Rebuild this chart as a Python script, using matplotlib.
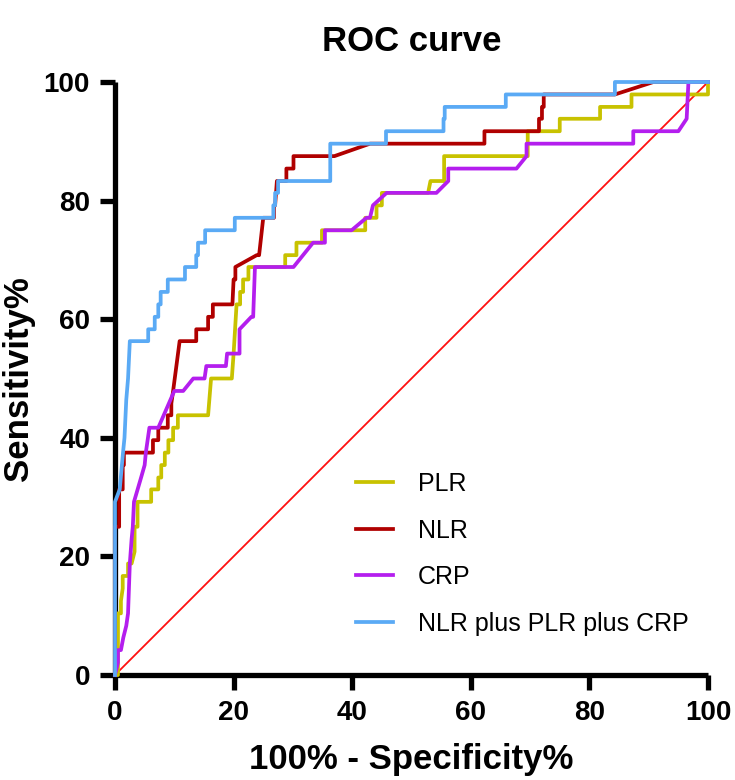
import matplotlib
matplotlib.use("Agg")
import matplotlib.pyplot as plt

plt.rcParams["font.family"] = ["Liberation Sans", "DejaVu Sans"]

# === ROC data (100% - specificity %, sensitivity %) ===
plr_x = [0, 0.5, 0.5, 1.0, 1.0, 1.3, 1.3, 2.2, 2.2, 2.8, 3.3, 3.3, 3.8, 3.8, 6.1, 6.1,
         7.3, 7.3, 7.8, 7.8, 8.4, 8.4, 9.0, 9.0, 9.8, 9.8, 10.6, 10.6, 15.7, 16.2, 19.7,
         20.0, 20.5, 21.1, 21.1, 21.6, 21.6, 22.5, 22.5, 28.7, 28.7, 30.6, 30.6, 34.9,
         34.9, 42.2, 42.2, 44.1, 44.1, 45.0, 45.0, 52.8, 53.2, 55.5, 55.5, 69.6, 69.6,
         75.0, 75.0, 81.8, 81.8, 87.1, 87.1, 100, 100]
plr_y = [0, 0, 10.4, 10.4, 12.5, 14.6, 16.7, 16.7, 18.8, 18.8, 20.8, 25.0, 25.0, 29.2,
         29.2, 31.3, 31.3, 33.3, 33.3, 35.4, 35.4, 37.5, 37.5, 39.6, 39.6, 41.7, 41.7,
         43.8, 43.8, 50.0, 50.0, 54.2, 62.5, 62.5, 64.6, 64.6, 66.7, 66.7, 68.8, 68.8,
         70.8, 70.8, 72.9, 72.9, 75.0, 75.0, 77.1, 77.1, 79.2, 79.2, 81.3, 81.3, 83.3,
         83.3, 87.5, 87.5, 91.7, 91.7, 93.8, 93.8, 95.8, 95.8, 97.9, 97.9, 100]

nlr_x = [0, 0, 0.7, 0.7, 1.3, 1.3, 1.5, 1.5, 6.4, 6.4, 7.3, 7.3, 8.9, 8.9, 9.5, 9.5,
         9.8, 10.9, 13.7, 13.7, 15.7, 15.7, 16.5, 16.5, 19.8, 20.0, 20.3, 20.3, 23.9,
         24.3, 25.0, 26.8, 26.8, 27.0, 27.3, 28.9, 28.9, 30.1, 30.1, 37.0, 43.0, 62.3,
         62.3, 71.5, 71.5, 72.0, 72.0, 72.3, 72.3, 84.3, 90.8, 100]
nlr_y = [0, 25.0, 25.0, 31.3, 31.3, 35.4, 35.4, 37.5, 37.5, 39.6, 39.6, 41.7, 41.7,
         43.8, 43.8, 45.8, 47.9, 56.3, 56.3, 58.3, 58.3, 60.4, 60.4, 62.5, 62.5, 66.7,
         66.7, 68.8, 70.8, 70.8, 77.1, 77.1, 79.2, 79.2, 83.3, 83.3, 85.4, 85.4, 87.5,
         87.5, 89.6, 89.6, 91.7, 91.7, 93.8, 93.8, 95.8, 95.8, 97.9, 97.9, 100, 100]

crp_x = [0, 0.5, 0.5, 1.0, 1.4, 1.9, 2.2, 2.5, 2.8, 3.0, 3.2, 4.4, 5.0, 5.2, 5.8, 7.3,
         10.0, 11.5, 13.2, 15.1, 15.4, 18.7, 18.9, 21.0, 21.0, 23.0, 23.3, 23.6, 30.1,
         33.4, 35.4, 35.4, 39.9, 42.4, 43.0, 43.5, 45.8, 54.2, 56.2, 56.2, 67.7, 69.4,
         69.4, 87.4, 87.4, 95.0, 96.4, 96.7, 100]
crp_y = [0, 2.1, 4.2, 4.2, 6.3, 8.3, 10.4, 18.8, 22.9, 25.0, 29.2, 33.3, 35.4, 37.5,
         41.7, 41.7, 47.9, 47.9, 50.0, 50.0, 52.1, 52.1, 54.2, 54.2, 58.3, 60.4, 60.4,
         68.8, 68.8, 72.9, 72.9, 75.0, 75.0, 77.1, 77.1, 79.2, 81.3, 81.3, 83.3, 85.4,
         85.4, 87.5, 89.6, 89.6, 91.7, 91.7, 93.8, 100, 100]

comb_x = [0, 0, 0.8, 1.35, 1.6, 1.9, 2.2, 2.5, 5.6, 5.6, 6.7, 6.7, 7.3, 7.3, 7.7, 7.7,
          8.9, 8.9, 11.8, 11.8, 13.7, 13.7, 14.0, 14.0, 15.2, 15.2, 20.2, 20.2, 26.7,
          26.7, 27.0, 27.0, 27.5, 27.5, 36.3, 36.3, 45.7, 45.7, 55.4, 55.4, 55.6, 55.6,
          65.9, 65.9, 84.3, 84.3, 100]
comb_y = [0, 29.2, 31.3, 37.5, 40.0, 46.4, 50.0, 56.3, 56.3, 58.3, 58.3, 60.4, 60.4,
          62.5, 62.5, 64.6, 64.6, 66.7, 66.7, 68.8, 68.8, 70.8, 70.8, 72.9, 72.9, 75.0,
          75.0, 77.1, 77.1, 79.2, 79.2, 81.3, 81.3, 83.3, 83.3, 89.6, 89.6, 91.7, 91.7,
          93.8, 93.8, 95.8, 95.8, 97.9, 97.9, 100, 100]

ref_x = [0, 100]
ref_y = [0, 100]

series = [
    ("PLR", plr_x, plr_y, "#C8C200"),
    ("NLR", nlr_x, nlr_y, "#B00000"),
    ("CRP", crp_x, crp_y, "#B41EEE"),
    ("NLR plus PLR plus CRP", comb_x, comb_y, "#5AAAF5"),
]

fig = plt.figure(figsize=(7.35, 7.8), dpi=100)
ax = fig.add_axes([115 / 735, 1 - 675 / 780, 593 / 735, 593 / 780])

ax.plot(ref_x, ref_y, color="#FF1010", lw=1.3, zorder=2)
for name, xs, ys, col in series:
    ax.plot(xs, ys, color=col, lw=2.7, label=name, clip_on=False, zorder=5)

ax.set_xlim(0, 100)
ax.set_ylim(0, 100)
ax.set_xticks(range(0, 101, 20))
ax.set_yticks(range(0, 101, 20))

for side in ["top", "right"]:
    ax.spines[side].set_visible(False)
for side in ["left", "bottom"]:
    ax.spines[side].set_linewidth(3.8)
    ax.spines[side].set_capstyle("butt")

ax.tick_params(axis="both", direction="out", length=11, width=3.8,
               labelsize=20, pad=7)
for lab in ax.get_xticklabels() + ax.get_yticklabels():
    lab.set_fontweight("bold")

ax.set_title("ROC curve", fontsize=25, fontweight="bold", pad=22)
ax.set_xlabel("100% - Specificity%", fontsize=25, fontweight="bold", labelpad=12)
ax.set_ylabel("Sensitivity%", fontsize=25, fontweight="bold", labelpad=6)

leg = ax.legend(loc="upper left", bbox_to_anchor=(0.368, 0.38), frameon=False,
                fontsize=18, handlelength=1.5, handletextpad=1.0, labelspacing=0.9)
for h in leg.get_lines():
    h.set_linewidth(2.7)

fig.savefig("out.png", dpi=100)
